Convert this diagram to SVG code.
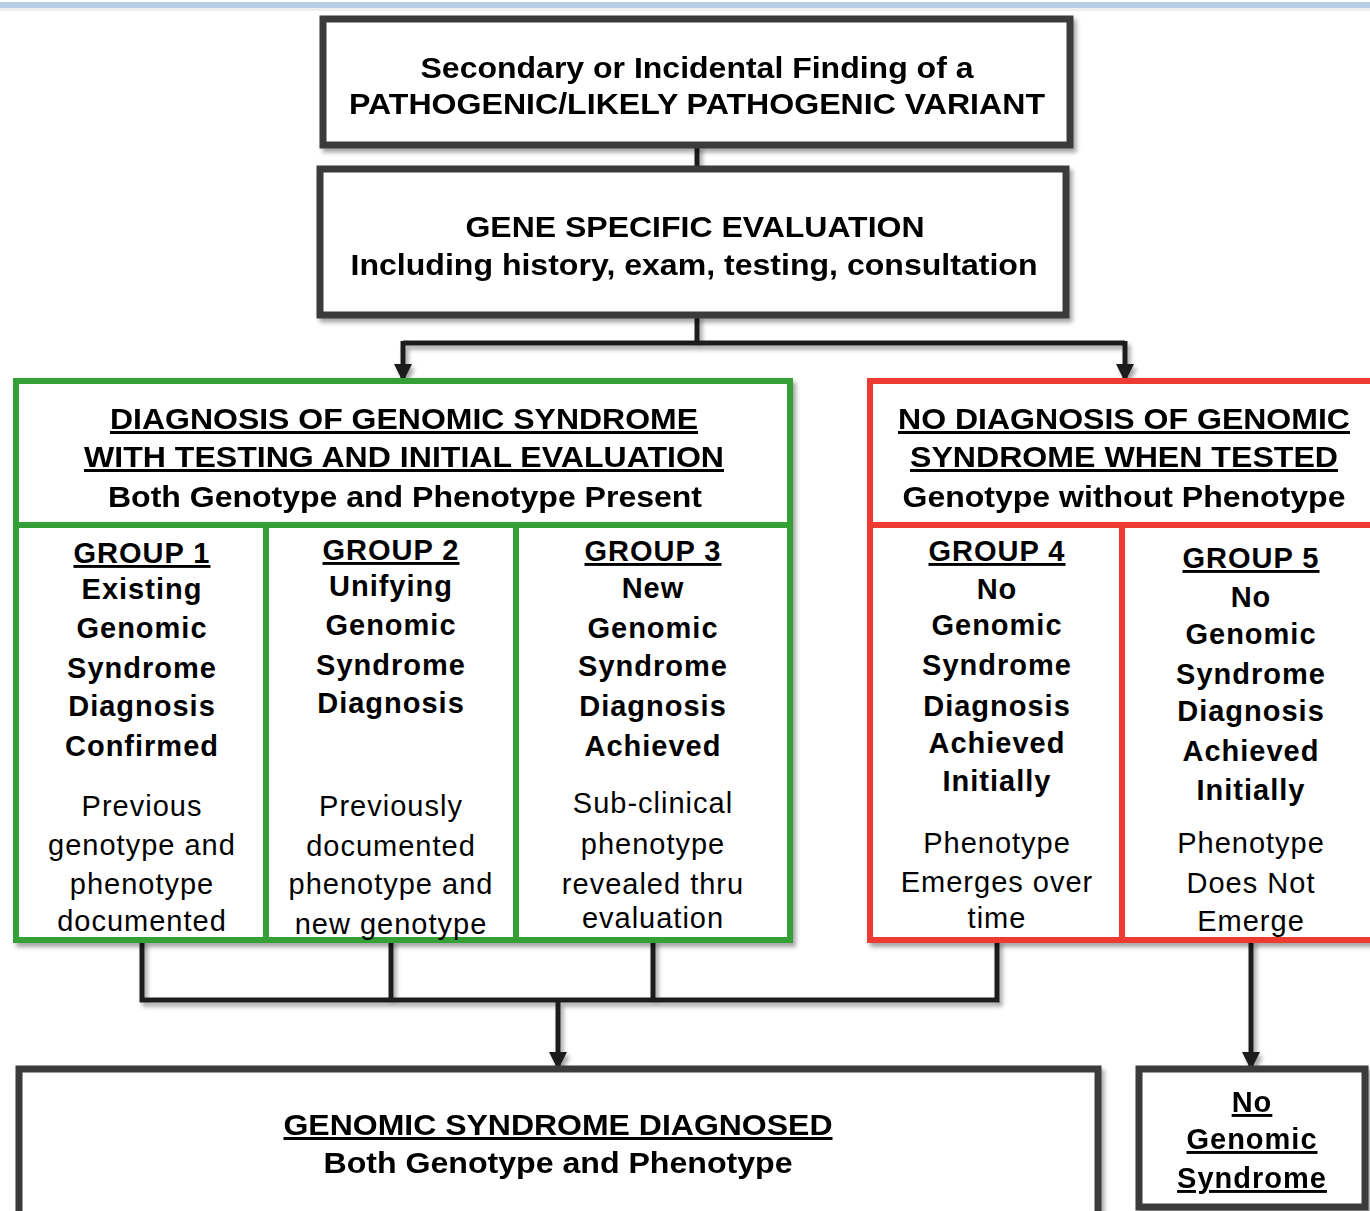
<svg xmlns="http://www.w3.org/2000/svg" width="1370" height="1211" viewBox="0 0 1370 1211">
<style>
text{font-family:"Liberation Sans",Arial,sans-serif;fill:#000;text-anchor:middle}
.h{font-weight:bold;font-size:30px}
.g{font-weight:bold;font-size:29px;letter-spacing:1px}
.gr{font-size:29px;letter-spacing:1px}
.u{text-decoration:underline}
.box{fill:#fff;stroke:#3a3a3a;stroke-width:7}
.grn{fill:none;stroke:#36a036;stroke-width:6}
.red{fill:none;stroke:#ee3a30;stroke-width:6}
.ln{fill:none;stroke:#1e1e1e;stroke-width:5}
</style>
<defs>
<filter id="sh" x="-5%" y="-5%" width="110%" height="115%">
<feDropShadow dx="3" dy="4" stdDeviation="2" flood-color="#000" flood-opacity="0.35"/>
</filter>
<marker id="ar" markerWidth="18" markerHeight="18" refX="16" refY="9" orient="auto" markerUnits="userSpaceOnUse" viewBox="0 0 18 18">
<path d="M0,0 L18,9 L0,18 Z" fill="#1e1e1e"/>
</marker>
</defs>
<rect x="0" y="2" width="1370" height="6" fill="#b8cce4"/>
<rect x="0" y="8" width="1370" height="3" fill="#eef0f3"/>

<g id="connectors" filter="url(#sh)">
<line class="ln" x1="697" y1="145" x2="697" y2="168"/>
<polyline class="ln" points="697,315 697,343"/>
<polyline class="ln" points="403,343 1125,343"/>
<polyline class="ln" points="403,341 403,380" marker-end="url(#ar)"/>
<polyline class="ln" points="1125,341 1125,380" marker-end="url(#ar)"/>
<polyline class="ln" points="142,940 142,1000 997,1000 997,940"/>
<line class="ln" x1="391" y1="940" x2="391" y2="1000"/>
<line class="ln" x1="653" y1="940" x2="653" y2="1000"/>
<line class="ln" x1="558" y1="1000" x2="558" y2="1068" stroke-width="7" marker-end="url(#ar)"/>
<line class="ln" x1="1251" y1="940" x2="1251" y2="1068" marker-end="url(#ar)"/>
</g>

<g id="finding" filter="url(#sh)">
<rect class="box" x="323" y="19" width="747" height="126"/>
<text class="h" x="697" y="78" textLength="553" lengthAdjust="spacingAndGlyphs">Secondary or Incidental Finding of a</text>
<text class="h" x="697" y="114" textLength="696" lengthAdjust="spacingAndGlyphs">PATHOGENIC/LIKELY PATHOGENIC VARIANT</text>
</g>

<g id="evaluation" filter="url(#sh)">
<rect class="box" x="320" y="169" width="746" height="146"/>
<text class="h" x="695" y="237" textLength="459" lengthAdjust="spacingAndGlyphs">GENE SPECIFIC EVALUATION</text>
<text class="h" x="694" y="275" textLength="687" lengthAdjust="spacingAndGlyphs">Including history, exam, testing, consultation</text>
</g>

<g id="diagnosis" filter="url(#sh)">
<rect x="16" y="381" width="774" height="559" fill="#fff"/>
<rect class="grn" x="16" y="381" width="774" height="559"/>
<line class="grn" x1="16" y1="525" x2="790" y2="525"/>
<line class="grn" x1="266" y1="525" x2="266" y2="940"/>
<line class="grn" x1="516" y1="525" x2="516" y2="940"/>
<text class="h u" x="404" y="429" textLength="588" lengthAdjust="spacingAndGlyphs">DIAGNOSIS OF GENOMIC SYNDROME</text>
<text class="h u" x="404" y="467" textLength="640" lengthAdjust="spacingAndGlyphs">WITH TESTING AND INITIAL EVALUATION</text>
<text class="h" x="405" y="507" textLength="594" lengthAdjust="spacingAndGlyphs">Both Genotype and Phenotype Present</text>
</g>

<g id="group1">
<text class="g u" x="142" y="563">GROUP 1</text>
<text class="g" x="142" y="599">Existing</text>
<text class="g" x="142" y="638">Genomic</text>
<text class="g" x="142" y="678">Syndrome</text>
<text class="g" x="142" y="716">Diagnosis</text>
<text class="g" x="142" y="756">Confirmed</text>
<text class="gr" x="142" y="816">Previous</text>
<text class="gr" x="142" y="855">genotype and</text>
<text class="gr" x="142" y="894">phenotype</text>
<text class="gr" x="142" y="931">documented</text>
</g>

<g id="group2">
<text class="g u" x="391" y="560">GROUP 2</text>
<text class="g" x="391" y="596">Unifying</text>
<text class="g" x="391" y="635">Genomic</text>
<text class="g" x="391" y="675">Syndrome</text>
<text class="g" x="391" y="713">Diagnosis</text>
<text class="gr" x="391" y="816">Previously</text>
<text class="gr" x="391" y="856">documented</text>
<text class="gr" x="391" y="894">phenotype and</text>
<text class="gr" x="391" y="934">new genotype</text>
</g>

<g id="group3">
<text class="g u" x="653" y="561">GROUP 3</text>
<text class="g" x="653" y="598">New</text>
<text class="g" x="653" y="638">Genomic</text>
<text class="g" x="653" y="676">Syndrome</text>
<text class="g" x="653" y="716">Diagnosis</text>
<text class="g" x="653" y="756">Achieved</text>
<text class="gr" x="653" y="813">Sub-clinical</text>
<text class="gr" x="653" y="854">phenotype</text>
<text class="gr" x="653" y="894">revealed thru</text>
<text class="gr" x="653" y="928">evaluation</text>
</g>

<g id="no-diagnosis" filter="url(#sh)">
<rect x="870" y="381" width="510" height="559" fill="#fff"/>
<rect class="red" x="870" y="381" width="510" height="559"/>
<line class="red" x1="870" y1="525" x2="1380" y2="525"/>
<line class="red" x1="1122" y1="525" x2="1122" y2="940"/>
<text class="h u" x="1124" y="429" textLength="452" lengthAdjust="spacingAndGlyphs">NO DIAGNOSIS OF GENOMIC</text>
<text class="h u" x="1124" y="467" textLength="428" lengthAdjust="spacingAndGlyphs">SYNDROME WHEN TESTED</text>
<text class="h" x="1124" y="507" textLength="443" lengthAdjust="spacingAndGlyphs">Genotype without Phenotype</text>
</g>

<g id="group4">
<text class="g u" x="997" y="561">GROUP 4</text>
<text class="g" x="997" y="599">No</text>
<text class="g" x="997" y="635">Genomic</text>
<text class="g" x="997" y="675">Syndrome</text>
<text class="g" x="997" y="716">Diagnosis</text>
<text class="g" x="997" y="753">Achieved</text>
<text class="g" x="997" y="791">Initially</text>
<text class="gr" x="997" y="853">Phenotype</text>
<text class="gr" x="997" y="892">Emerges over</text>
<text class="gr" x="997" y="928">time</text>
</g>

<g id="group5">
<text class="g u" x="1251" y="568">GROUP 5</text>
<text class="g" x="1251" y="607">No</text>
<text class="g" x="1251" y="644">Genomic</text>
<text class="g" x="1251" y="684">Syndrome</text>
<text class="g" x="1251" y="721">Diagnosis</text>
<text class="g" x="1251" y="761">Achieved</text>
<text class="g" x="1251" y="800">Initially</text>
<text class="gr" x="1251" y="853">Phenotype</text>
<text class="gr" x="1251" y="893">Does Not</text>
<text class="gr" x="1251" y="931">Emerge</text>
</g>

<g id="diagnosed" filter="url(#sh)">
<rect class="box" x="19" y="1069" width="1079" height="160"/>
<text class="h u" x="558" y="1135" textLength="549" lengthAdjust="spacingAndGlyphs">GENOMIC SYNDROME DIAGNOSED</text>
<text class="h" x="558" y="1173" textLength="469" lengthAdjust="spacingAndGlyphs">Both Genotype and Phenotype</text>
</g>

<g id="no-syndrome" filter="url(#sh)">
<rect class="box" x="1139" y="1069" width="226" height="138"/>
<text class="g u" x="1252" y="1112">No</text>
<text class="g u" x="1252" y="1149">Genomic</text>
<text class="g u" x="1252" y="1188">Syndrome</text>
</g>
</svg>
